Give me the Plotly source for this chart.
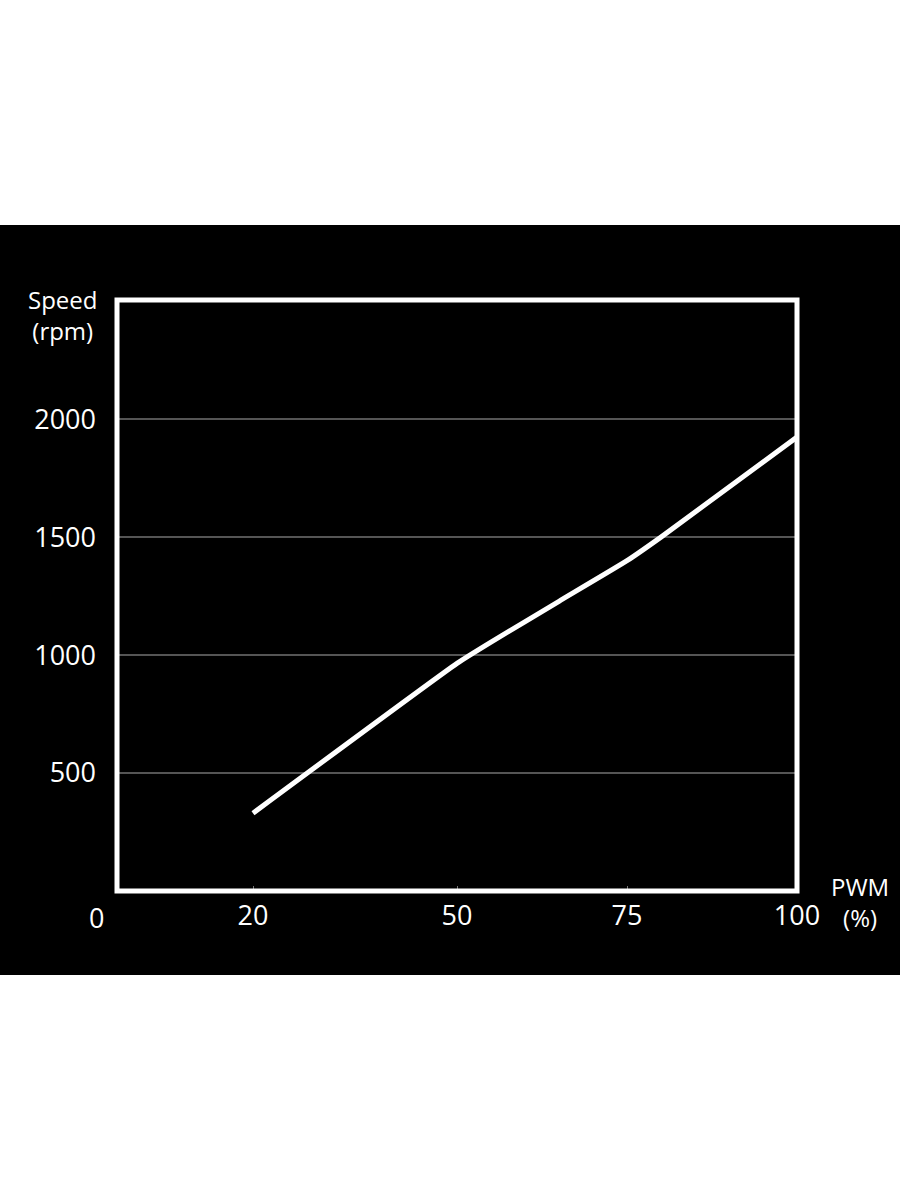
import plotly.graph_objects as go

pwm = [20, 50, 55, 65, 75, 80, 100]
speed = [330, 965, 1055, 1228, 1400, 1500, 1924]

x_ticks = [20, 50, 75, 100]
y_ticks = [500, 1000, 1500, 2000]

FONT = "Open Sans"
TICK_FONT = dict(family=FONT, size=27, color="white")
LABEL_FONT = dict(family=FONT, size=24, color="white")

fig = go.Figure()
fig.add_trace(go.Scatter(
    x=pwm, y=speed, mode="lines",
    line=dict(color="white", width=5, shape="spline", smoothing=0.4),
    hoverinfo="skip",
))

# black slide-like background band
fig.add_shape(type="rect", xref="paper", yref="paper", layer="below",
              x0=-0.3, x1=1.3, y0=-0.142, y1=1.127,
              fillcolor="black", line=dict(width=0))
# white frame around the plot area
fig.add_shape(type="rect", xref="x domain", yref="y domain",
              x0=0, x1=1, y0=0, y1=1,
              line=dict(color="white", width=5))

fig.add_annotation(text="Speed<br>(rpm)", xref="paper", yref="paper",
                   x=0, y=1, xanchor="center", yanchor="middle",
                   xshift=-55, yshift=-15, showarrow=False, font=LABEL_FONT)
fig.add_annotation(text="PWM<br>(%)", xref="paper", yref="paper",
                   x=1, y=0, xanchor="center", yanchor="middle",
                   xshift=63, yshift=-11, showarrow=False, font=LABEL_FONT)
fig.add_annotation(text="0", xref="paper", yref="paper",
                   x=0, y=0, xanchor="center", yanchor="middle",
                   xshift=-21, yshift=-26, showarrow=False, font=TICK_FONT)

fig.update_xaxes(range=[0, 100], tickvals=x_ticks, showgrid=False,
                 zeroline=False, ticks="inside", ticklen=5, tickwidth=1,
                 tickcolor="#777", ticklabelstandoff=6, tickfont=TICK_FONT)
fig.update_yaxes(range=[0, 2505], tickvals=y_ticks, showgrid=True,
                 gridcolor="#555555", gridwidth=2, zeroline=False,
                 ticks="", ticklabelstandoff=20, tickfont=TICK_FONT)

fig.update_layout(
    width=900, height=1200,
    margin=dict(l=117, r=103, t=300, b=309),
    paper_bgcolor="white", plot_bgcolor="black",
    showlegend=False,
)

fig.write_html("out.html", config={"displayModeBar": False},
               post_script="document.body.style.margin='0';")
